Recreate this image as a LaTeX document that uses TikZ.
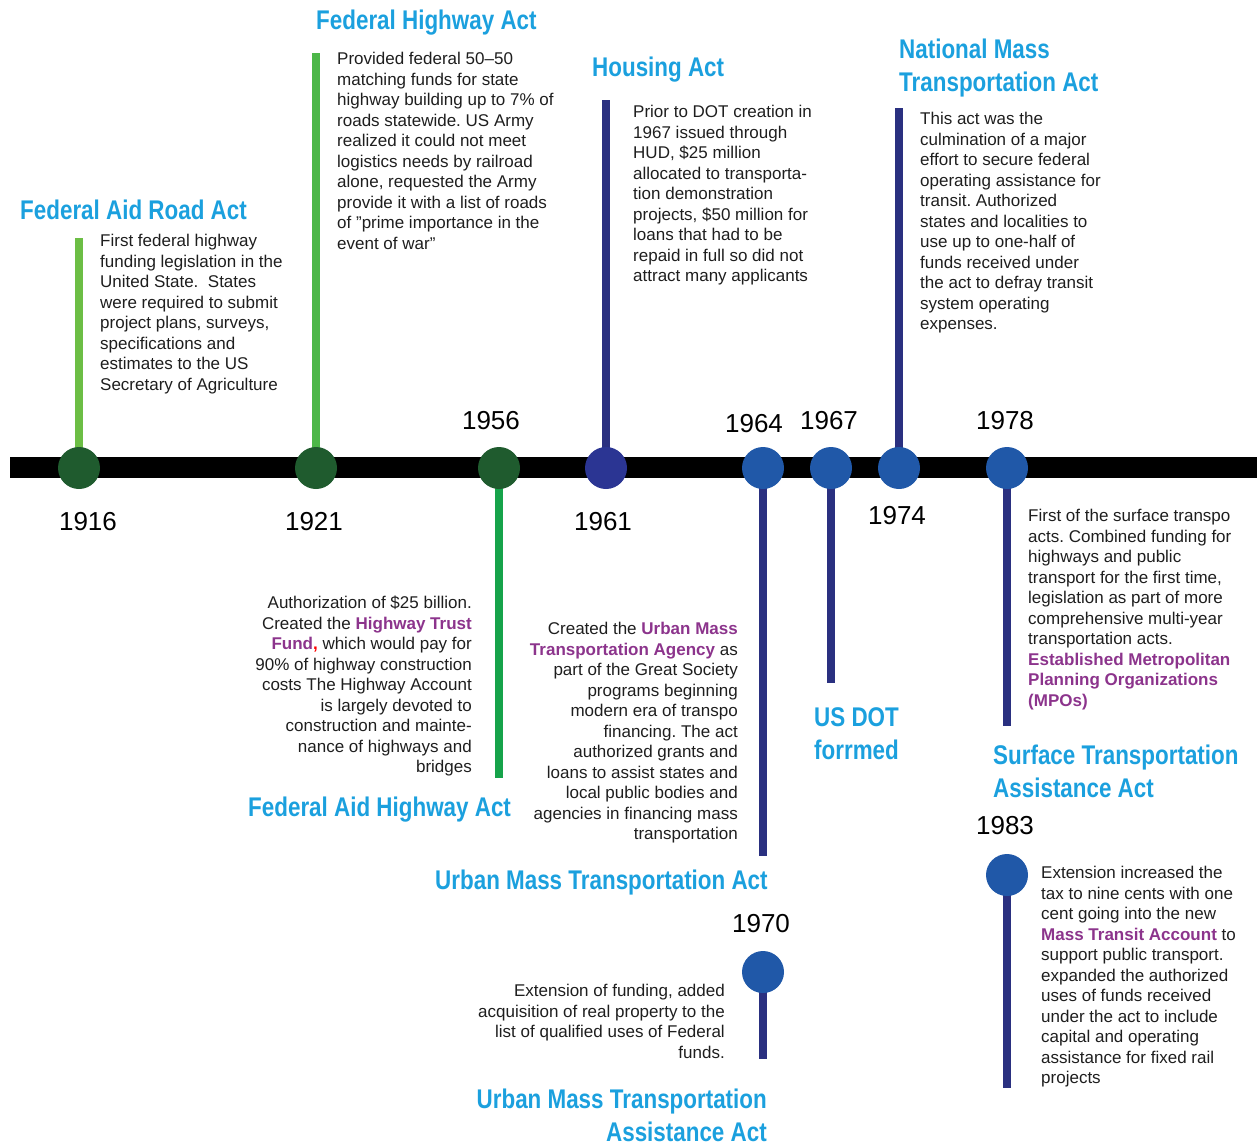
\documentclass[tikz,border=0pt]{standalone}
\usepackage{fontspec}
\setmainfont[Ligatures=ResetAll]{Liberation Sans}
\newfontfamily\titlefont[FakeStretch=0.83]{Liberation Sans}
\usetikzlibrary{backgrounds}
\definecolor{tblue}{RGB}{27,160,222}
\definecolor{hpurple}{RGB}{140,52,140}
\definecolor{dgreen}{RGB}{31,91,46}
\definecolor{cblue}{RGB}{32,88,168}
\definecolor{cnavy}{RGB}{43,53,147}
\definecolor{navy}{RGB}{42,48,128}
\definecolor{gA}{RGB}{108,190,69}
\definecolor{gB}{RGB}{76,183,72}
\definecolor{gC}{RGB}{22,163,74}
\definecolor{txt}{RGB}{30,30,30}
\newcommand{\hl}[1]{\textcolor{hpurple}{\bfseries #1}}
\frenchspacing
\begin{document}
\begin{tikzpicture}[x=1pt,y=-1pt,
  body/.style={inner sep=0, font=\frenchspacing\fontsize{17}{20.5}\selectfont, text=txt},
  ttl/.style={inner sep=0, font=\titlefont\bfseries\fontsize{27}{33}\selectfont, text=tblue},
  yr/.style={inner sep=0, font=\fontsize{26}{30}\selectfont, text=black},
  dot/.style={circle, minimum size=42, inner sep=0},
  stem/.style={line width=8}]
\useasboundingbox (0,0) rectangle (1257,1143);

% circles
\node[dot, fill=dgreen] (c1916) at (79,468) {};
\node[dot, fill=dgreen] (c1921) at (316,468) {};
\node[dot, fill=dgreen] (c1956) at (499,468) {};
\node[dot, fill=cnavy] (c1961) at (606,468) {};
\node[dot, fill=cblue] (c1964) at (763,468) {};
\node[dot, fill=cblue] (c1967) at (831,468) {};
\node[dot, fill=cblue] (c1974) at (899,468) {};
\node[dot, fill=cblue] (c1978) at (1007,468) {};
\node[dot, fill=cblue] (c1983) at (1007,875) {};
\node[dot, fill=cblue] (c1970) at (763,972) {};

% stem ends
\coordinate (e1916) at (79,238);
\coordinate (e1921) at (316,53);
\coordinate (e1956) at (499,778);
\coordinate (e1961) at (606,100);
\coordinate (e1964) at (763,856);
\coordinate (e1967) at (831,683);
\coordinate (e1974) at (899,108);
\coordinate (e1978) at (1007,726);
\coordinate (e1983) at (1007,1088);
\coordinate (e1970) at (763,1059);
\coordinate (barL) at (10,467.5);
\coordinate (barR) at (1257,467.5);

\begin{pgfonlayer}{background}
\draw[stem, gA] (c1916.center) -- (e1916);
\draw[stem, gB] (c1921.center) -- (e1921);
\draw[stem, gC] (c1956.center) -- (e1956);
\draw[stem, navy] (c1961.center) -- (e1961);
\draw[stem, navy] (c1964.center) -- (e1964);
\draw[stem, navy] (c1967.center) -- (e1967);
\draw[stem, navy] (c1974.center) -- (e1974);
\draw[stem, navy] (c1978.center) -- (e1978);
\draw[stem, navy] (c1983.center) -- (e1983);
\draw[stem, navy] (c1970.center) -- (e1970);
\draw[line width=21, black] (barL) -- (barR);
\end{pgfonlayer}

% years
\node[yr] (y1916) at (88,522) {1916};
\node[yr] (y1921) at (314,522) {1921};
\node[yr] (y1956) at (491,421) {1956};
\node[yr] (y1961) at (603,522) {1961};
\node[yr] (y1964) at (754,424) {1964};
\node[yr] (y1967) at (829,421) {1967};
\node[yr] (y1974) at (897,516) {1974};
\node[yr] (y1978) at (1005,421) {1978};
\node[yr] (y1983) at (1005,826) {1983};
\node[yr] (y1970) at (761,924) {1970};

% titles
\node[ttl, anchor=north west] (t1916) at (20,200) {Federal Aid Road Act};
\node[ttl, anchor=north west] (t1921) at (316,10) {Federal Highway Act};
\node[ttl, anchor=north west] (t1961) at (592,57) {Housing Act};
\node[ttl, anchor=north west, align=left] (t1974) at (899,39) {National Mass\\Transportation Act};
\node[ttl, anchor=north west] (t1956) at (248,797) {Federal Aid Highway Act};
\node[ttl, anchor=north west] (t1964) at (435,870) {Urban Mass Transportation Act};
\node[ttl, anchor=north west, align=left] (t1967) at (814,707) {US DOT\\forrmed};
\node[ttl, anchor=north west, align=left] (t1978) at (993,745) {Surface Transportation\\Assistance Act};
\node[ttl, anchor=north east, align=right] (t1970) at (767,1089) {Urban Mass Transportation\\Assistance Act};

% body texts
\node[body, anchor=north west, align=left] (b1916) at (100,234) {First federal highway\\funding legislation in the\\United State.\ \ States\\were required to submit\\project plans, surveys,\\specifications and\\estimates to the US\\Secretary of Agriculture};
\node[body, anchor=north west, align=left] (b1921) at (337,52) {Provided federal 50–50\\matching funds for state\\highway building up to 7\% of\\roads statewide. US Army\\realized it could not meet\\logistics needs by railroad\\alone, requested the Army\\provide it with a list of roads\\of "prime importance in the\\event of war"};
\node[body, anchor=north west, align=left] (b1961) at (633,105) {Prior to DOT creation in\\1967 issued through\\HUD, \$25 million\\allocated to transporta-\\tion demonstration\\projects, \$50 million for\\loans that had to be\\repaid in full so did not\\attract many applicants};
\node[body, anchor=north west, align=left] (b1974) at (920,112) {This act was the\\culmination of a major\\effort to secure federal\\operating assistance for\\transit. Authorized\\states and localities to\\use up to one-half of\\funds received under\\the act to defray transit\\system operating\\expenses.};
\node[body, anchor=north east, align=right] (b1956) at (472,596) {Authorization of \$25 billion.\\Created the \hl{Highway Trust}\\\hl{Fund}{\color{red}\bfseries,} which would pay for\\90\% of highway construction\\costs The Highway Account\\is largely devoted to\\construction and mainte-\\nance of highways and\\bridges};
\node[body, anchor=north east, align=right] (b1964) at (738,622) {Created the \hl{Urban Mass}\\\hl{Transportation Agency} as\\part of the Great Society\\programs beginning\\modern era of transpo\\financing. The act\\authorized grants and\\loans to assist states and\\local public bodies and\\agencies in financing mass\\transportation};
\node[body, anchor=north west, align=left] (b1978) at (1028,509) {First of the surface transpo\\acts. Combined funding for\\highways and public\\transport for the first time,\\legislation as part of more\\comprehensive multi-year\\transportation acts.\\\hl{Established Metropolitan}\\\hl{Planning Organizations}\\\hl{(MPOs)}};
\node[body, anchor=north west, align=left] (b1983) at (1041,866) {Extension increased the\\tax to nine cents with one\\cent going into the new\\\hl{Mass Transit Account} to\\support public transport.\\expanded the authorized\\uses of funds received\\under the act to include\\capital and operating\\assistance for fixed rail\\projects};
\node[body, anchor=north east, align=right] (b1970) at (725,984) {Extension of funding, added\\acquisition of real property to the\\list of qualified uses of Federal\\funds.};
\end{tikzpicture}
\end{document}
